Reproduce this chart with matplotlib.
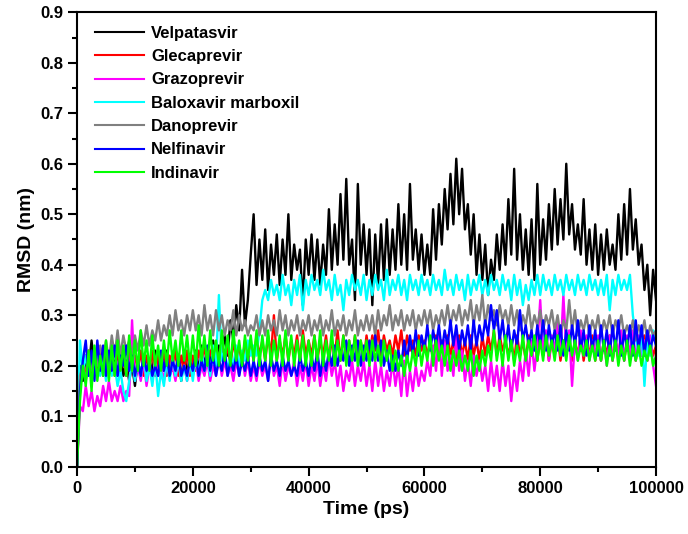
import numpy as np
import matplotlib
matplotlib.use('Agg')
import matplotlib.pyplot as plt
from matplotlib.ticker import MultipleLocator, FormatStrFormatter

plt.rcParams['font.family'] = ['Liberation Sans', 'DejaVu Sans']
plt.rcParams['font.weight'] = 'bold'

time_ps = np.arange(0, 100001, 500)

velpatasvir = [0.0,
    0.20, 0.17, 0.22, 0.19, 0.25, 0.20, 0.24, 0.19, 0.23, 0.18,
    0.22, 0.19, 0.21, 0.18, 0.22, 0.18, 0.21, 0.17, 0.20, 0.16,
    0.21, 0.18, 0.22, 0.18, 0.21, 0.19, 0.23, 0.18, 0.22, 0.19,
    0.23, 0.18, 0.21, 0.18, 0.22, 0.17, 0.23, 0.18, 0.22, 0.19,
    0.23, 0.19, 0.24, 0.20, 0.23, 0.21, 0.25, 0.21, 0.24, 0.22,
    0.26, 0.22, 0.29, 0.25, 0.32, 0.27, 0.39, 0.28, 0.33, 0.42,
    0.50, 0.36, 0.45, 0.37, 0.47, 0.35, 0.44, 0.38, 0.46, 0.36,
    0.45, 0.38, 0.50, 0.37, 0.44, 0.39, 0.43, 0.32, 0.45, 0.38,
    0.46, 0.37, 0.45, 0.36, 0.44, 0.38, 0.51, 0.39, 0.48, 0.40,
    0.54, 0.41, 0.57, 0.40, 0.45, 0.33, 0.56, 0.40, 0.48, 0.38,
    0.47, 0.32, 0.46, 0.36, 0.48, 0.37, 0.49, 0.38, 0.47, 0.39,
    0.52, 0.40, 0.50, 0.39, 0.56, 0.41, 0.47, 0.39, 0.46, 0.38,
    0.44, 0.38, 0.51, 0.41, 0.52, 0.44, 0.55, 0.47, 0.58, 0.48,
    0.61, 0.50, 0.59, 0.47, 0.52, 0.42, 0.50, 0.38, 0.46, 0.37,
    0.44, 0.34, 0.41, 0.37, 0.46, 0.39, 0.48, 0.40, 0.53, 0.42,
    0.59, 0.41, 0.50, 0.39, 0.47, 0.38, 0.49, 0.37, 0.56, 0.40,
    0.49, 0.41, 0.52, 0.43, 0.55, 0.44, 0.53, 0.45, 0.60, 0.46,
    0.52, 0.43, 0.48, 0.42, 0.53, 0.40, 0.47, 0.39, 0.48, 0.38,
    0.46, 0.39, 0.47, 0.40, 0.44, 0.39, 0.50, 0.41, 0.52, 0.42,
    0.55, 0.43, 0.49, 0.40, 0.44, 0.35, 0.40, 0.30, 0.39, 0.33]

glecaprevir = [0.0,
    0.15, 0.21, 0.17, 0.23, 0.18, 0.22, 0.19, 0.23, 0.18, 0.22,
    0.19, 0.22, 0.18, 0.23, 0.19, 0.22, 0.18, 0.23, 0.19, 0.22,
    0.19, 0.23, 0.18, 0.22, 0.19, 0.23, 0.18, 0.22, 0.19, 0.23,
    0.18, 0.22, 0.19, 0.23, 0.18, 0.22, 0.19, 0.23, 0.18, 0.22,
    0.19, 0.23, 0.20, 0.24, 0.20, 0.23, 0.21, 0.24, 0.20, 0.25,
    0.21, 0.24, 0.20, 0.25, 0.21, 0.24, 0.20, 0.25, 0.21, 0.24,
    0.21, 0.26, 0.22, 0.25, 0.21, 0.26, 0.22, 0.30, 0.21, 0.25,
    0.22, 0.26, 0.21, 0.25, 0.22, 0.26, 0.21, 0.27, 0.22, 0.25,
    0.22, 0.26, 0.21, 0.25, 0.22, 0.26, 0.21, 0.25, 0.22, 0.27,
    0.21, 0.26, 0.22, 0.25, 0.21, 0.26, 0.22, 0.25, 0.21, 0.26,
    0.22, 0.26, 0.23, 0.27, 0.22, 0.26, 0.23, 0.25, 0.22, 0.26,
    0.23, 0.27, 0.22, 0.26, 0.23, 0.25, 0.22, 0.26, 0.23, 0.25,
    0.22, 0.25, 0.21, 0.26, 0.22, 0.25, 0.21, 0.26, 0.22, 0.25,
    0.21, 0.26, 0.22, 0.25, 0.21, 0.26, 0.22, 0.25, 0.21, 0.26,
    0.22, 0.26, 0.23, 0.27, 0.22, 0.26, 0.23, 0.25, 0.22, 0.25,
    0.21, 0.26, 0.22, 0.25, 0.21, 0.26, 0.22, 0.25, 0.21, 0.26,
    0.22, 0.26, 0.21, 0.25, 0.22, 0.26, 0.21, 0.25, 0.22, 0.26,
    0.21, 0.25, 0.22, 0.26, 0.21, 0.25, 0.22, 0.26, 0.21, 0.25,
    0.21, 0.25, 0.22, 0.26, 0.21, 0.25, 0.22, 0.26, 0.21, 0.25,
    0.22, 0.26, 0.21, 0.25, 0.22, 0.26, 0.21, 0.25, 0.22, 0.24]

grazoprevir = [0.0,
    0.12, 0.11, 0.16, 0.12, 0.15, 0.11, 0.14, 0.12, 0.16, 0.13,
    0.17, 0.13, 0.15, 0.13, 0.16, 0.13, 0.15, 0.14, 0.29, 0.17,
    0.20, 0.17, 0.21, 0.16, 0.20, 0.17, 0.21, 0.18, 0.20, 0.17,
    0.21, 0.18, 0.20, 0.17, 0.21, 0.18, 0.20, 0.17, 0.21, 0.18,
    0.21, 0.17, 0.20, 0.18, 0.21, 0.17, 0.20, 0.18, 0.22, 0.18,
    0.21, 0.18, 0.20, 0.17, 0.21, 0.18, 0.22, 0.18, 0.21, 0.17,
    0.20, 0.17, 0.21, 0.18, 0.20, 0.17, 0.22, 0.18, 0.20, 0.16,
    0.21, 0.17, 0.20, 0.18, 0.21, 0.16, 0.20, 0.17, 0.21, 0.16,
    0.20, 0.17, 0.21, 0.16, 0.20, 0.17, 0.22, 0.18, 0.21, 0.16,
    0.20, 0.15, 0.19, 0.17, 0.21, 0.16, 0.20, 0.17, 0.21, 0.16,
    0.20, 0.15, 0.21, 0.16, 0.20, 0.15, 0.19, 0.16, 0.21, 0.16,
    0.20, 0.14, 0.21, 0.14, 0.19, 0.15, 0.20, 0.16, 0.19, 0.17,
    0.21, 0.18, 0.24, 0.19, 0.27, 0.18, 0.25, 0.19, 0.22, 0.18,
    0.26, 0.19, 0.23, 0.17, 0.21, 0.16, 0.22, 0.18, 0.21, 0.17,
    0.20, 0.15, 0.21, 0.16, 0.20, 0.15, 0.21, 0.16, 0.20, 0.13,
    0.19, 0.15, 0.21, 0.17, 0.23, 0.18, 0.25, 0.19, 0.24, 0.33,
    0.22, 0.27, 0.21, 0.26, 0.23, 0.29, 0.22, 0.34, 0.23, 0.27,
    0.16, 0.25, 0.21, 0.27, 0.22, 0.26, 0.21, 0.25, 0.22, 0.26,
    0.21, 0.25, 0.20, 0.26, 0.21, 0.25, 0.22, 0.27, 0.21, 0.26,
    0.22, 0.27, 0.21, 0.26, 0.22, 0.25, 0.21, 0.26, 0.20, 0.16]

baloxavir = [0.0,
    0.25, 0.19, 0.22, 0.18, 0.21, 0.19, 0.23, 0.18, 0.22, 0.17,
    0.21, 0.18, 0.20, 0.16, 0.19, 0.15, 0.13, 0.17, 0.21, 0.17,
    0.21, 0.18, 0.22, 0.17, 0.20, 0.16, 0.21, 0.14, 0.19, 0.16,
    0.21, 0.17, 0.22, 0.18, 0.21, 0.17, 0.20, 0.17, 0.21, 0.17,
    0.22, 0.18, 0.23, 0.19, 0.22, 0.18, 0.24, 0.20, 0.34, 0.21,
    0.23, 0.19, 0.22, 0.20, 0.24, 0.20, 0.23, 0.21, 0.25, 0.22,
    0.24, 0.22, 0.27, 0.33, 0.35, 0.33, 0.37, 0.34, 0.36, 0.33,
    0.38, 0.34, 0.36, 0.32, 0.37, 0.34, 0.38, 0.31, 0.37, 0.34,
    0.38, 0.35, 0.37, 0.34, 0.39, 0.35, 0.37, 0.33, 0.38, 0.34,
    0.36, 0.31, 0.37, 0.34, 0.38, 0.35, 0.37, 0.34, 0.38, 0.33,
    0.37, 0.34, 0.38, 0.35, 0.37, 0.33, 0.39, 0.34, 0.37, 0.35,
    0.38, 0.34, 0.37, 0.33, 0.38, 0.35, 0.37, 0.34, 0.38, 0.35,
    0.37, 0.34, 0.38, 0.35, 0.37, 0.34, 0.39, 0.35, 0.37, 0.34,
    0.38, 0.35, 0.37, 0.33, 0.38, 0.34, 0.37, 0.35, 0.38, 0.34,
    0.37, 0.34, 0.38, 0.35, 0.37, 0.34, 0.38, 0.35, 0.37, 0.33,
    0.38, 0.34, 0.37, 0.32, 0.36, 0.33, 0.37, 0.34, 0.38, 0.34,
    0.38, 0.35, 0.37, 0.34, 0.38, 0.35, 0.37, 0.34, 0.38, 0.35,
    0.37, 0.34, 0.38, 0.35, 0.37, 0.34, 0.38, 0.35, 0.37, 0.34,
    0.37, 0.34, 0.38, 0.31, 0.37, 0.34, 0.38, 0.35, 0.37, 0.35,
    0.38, 0.30, 0.26, 0.22, 0.27, 0.16, 0.25, 0.22, 0.27, 0.24]

danoprevir = [0.0,
    0.18, 0.20, 0.17, 0.22, 0.19, 0.23, 0.20, 0.24, 0.21, 0.25,
    0.21, 0.26, 0.22, 0.27, 0.22, 0.26, 0.23, 0.25, 0.22, 0.26,
    0.23, 0.27, 0.24, 0.28, 0.24, 0.27, 0.25, 0.29, 0.25, 0.28,
    0.26, 0.30, 0.26, 0.31, 0.27, 0.29, 0.26, 0.30, 0.27, 0.31,
    0.27, 0.30, 0.26, 0.32, 0.27, 0.30, 0.26, 0.31, 0.27, 0.30,
    0.26, 0.29, 0.27, 0.31, 0.26, 0.30, 0.27, 0.29, 0.26, 0.28,
    0.27, 0.30, 0.26, 0.29, 0.26, 0.30, 0.27, 0.29, 0.26, 0.31,
    0.27, 0.30, 0.26, 0.29, 0.27, 0.30, 0.26, 0.29, 0.27, 0.30,
    0.26, 0.29, 0.27, 0.30, 0.26, 0.29, 0.27, 0.31, 0.26, 0.29,
    0.27, 0.30, 0.26, 0.29, 0.27, 0.31, 0.26, 0.29, 0.27, 0.30,
    0.27, 0.30, 0.26, 0.31, 0.27, 0.30, 0.28, 0.32, 0.27, 0.30,
    0.28, 0.31, 0.27, 0.30, 0.28, 0.31, 0.27, 0.30, 0.28, 0.31,
    0.28, 0.31, 0.27, 0.30, 0.28, 0.31, 0.28, 0.32, 0.28, 0.31,
    0.29, 0.32, 0.28, 0.31, 0.29, 0.33, 0.28, 0.32, 0.29, 0.34,
    0.28, 0.32, 0.29, 0.31, 0.28, 0.32, 0.29, 0.31, 0.28, 0.32,
    0.28, 0.31, 0.27, 0.30, 0.28, 0.32, 0.27, 0.30, 0.28, 0.31,
    0.27, 0.30, 0.28, 0.31, 0.27, 0.30, 0.26, 0.29, 0.27, 0.33,
    0.27, 0.31, 0.26, 0.29, 0.27, 0.30, 0.26, 0.29, 0.27, 0.30,
    0.26, 0.29, 0.27, 0.30, 0.26, 0.29, 0.27, 0.30, 0.26, 0.28,
    0.26, 0.29, 0.25, 0.28, 0.26, 0.29, 0.25, 0.28, 0.26, 0.27]

nelfinavir = [0.0,
    0.15, 0.21, 0.25, 0.18, 0.23, 0.17, 0.25, 0.19, 0.24, 0.18,
    0.23, 0.19, 0.24, 0.18, 0.22, 0.20, 0.24, 0.19, 0.22, 0.18,
    0.21, 0.18, 0.22, 0.19, 0.21, 0.18, 0.20, 0.18, 0.23, 0.19,
    0.22, 0.18, 0.21, 0.19, 0.22, 0.18, 0.20, 0.18, 0.21, 0.19,
    0.22, 0.18, 0.21, 0.19, 0.24, 0.19, 0.22, 0.18, 0.21, 0.19,
    0.23, 0.18, 0.21, 0.19, 0.22, 0.18, 0.21, 0.19, 0.22, 0.18,
    0.21, 0.18, 0.22, 0.19, 0.21, 0.17, 0.22, 0.19, 0.21, 0.18,
    0.22, 0.19, 0.21, 0.18, 0.20, 0.18, 0.22, 0.19, 0.21, 0.18,
    0.22, 0.19, 0.23, 0.18, 0.22, 0.19, 0.23, 0.20, 0.24, 0.20,
    0.23, 0.21, 0.25, 0.20, 0.24, 0.21, 0.25, 0.20, 0.24, 0.21,
    0.25, 0.21, 0.26, 0.21, 0.25, 0.20, 0.23, 0.19, 0.22, 0.19,
    0.23, 0.20, 0.25, 0.21, 0.26, 0.22, 0.27, 0.22, 0.26, 0.23,
    0.28, 0.23, 0.27, 0.24, 0.28, 0.23, 0.27, 0.24, 0.29, 0.24,
    0.28, 0.23, 0.27, 0.24, 0.28, 0.23, 0.29, 0.24, 0.28, 0.25,
    0.29, 0.26, 0.32, 0.27, 0.31, 0.25, 0.29, 0.24, 0.28, 0.23,
    0.27, 0.24, 0.31, 0.25, 0.28, 0.24, 0.27, 0.23, 0.28, 0.24,
    0.29, 0.23, 0.28, 0.24, 0.27, 0.23, 0.28, 0.22, 0.27, 0.23,
    0.28, 0.24, 0.29, 0.23, 0.27, 0.22, 0.28, 0.23, 0.27, 0.22,
    0.28, 0.23, 0.27, 0.22, 0.28, 0.23, 0.29, 0.22, 0.27, 0.23,
    0.28, 0.22, 0.29, 0.23, 0.28, 0.22, 0.27, 0.23, 0.26, 0.24]

indinavir = [0.0,
    0.13, 0.20, 0.16, 0.23, 0.15, 0.24, 0.17, 0.22, 0.18, 0.25,
    0.17, 0.24, 0.18, 0.25, 0.19, 0.24, 0.18, 0.26, 0.19, 0.25,
    0.19, 0.27, 0.20, 0.25, 0.19, 0.26, 0.20, 0.24, 0.19, 0.25,
    0.20, 0.27, 0.21, 0.25, 0.20, 0.27, 0.21, 0.26, 0.20, 0.26,
    0.20, 0.28, 0.21, 0.26, 0.20, 0.27, 0.21, 0.25, 0.20, 0.27,
    0.21, 0.26, 0.20, 0.27, 0.21, 0.25, 0.20, 0.26, 0.21, 0.26,
    0.21, 0.27, 0.20, 0.26, 0.21, 0.27, 0.20, 0.25, 0.21, 0.26,
    0.20, 0.27, 0.21, 0.26, 0.20, 0.25, 0.21, 0.26, 0.20, 0.25,
    0.20, 0.26, 0.21, 0.27, 0.20, 0.25, 0.21, 0.27, 0.20, 0.25,
    0.21, 0.26, 0.20, 0.25, 0.21, 0.26, 0.20, 0.25, 0.21, 0.25,
    0.20, 0.25, 0.21, 0.24, 0.20, 0.25, 0.21, 0.24, 0.19, 0.23,
    0.19, 0.22, 0.18, 0.22, 0.19, 0.23, 0.20, 0.25, 0.20, 0.24,
    0.21, 0.26, 0.20, 0.25, 0.21, 0.24, 0.20, 0.24, 0.19, 0.23,
    0.20, 0.23, 0.19, 0.22, 0.19, 0.23, 0.18, 0.22, 0.19, 0.23,
    0.20, 0.24, 0.21, 0.27, 0.21, 0.25, 0.20, 0.26, 0.21, 0.25,
    0.20, 0.24, 0.21, 0.26, 0.21, 0.25, 0.22, 0.26, 0.21, 0.25,
    0.21, 0.26, 0.22, 0.25, 0.21, 0.26, 0.22, 0.25, 0.21, 0.26,
    0.22, 0.25, 0.21, 0.24, 0.22, 0.25, 0.21, 0.24, 0.21, 0.25,
    0.21, 0.25, 0.20, 0.24, 0.21, 0.25, 0.20, 0.24, 0.21, 0.25,
    0.20, 0.24, 0.21, 0.24, 0.20, 0.23, 0.21, 0.24, 0.20, 0.22]

series = [
    ('Velpatasvir', velpatasvir, '#000000'),
    ('Glecaprevir', glecaprevir, '#ff0000'),
    ('Grazoprevir', grazoprevir, '#ff00ff'),
    ('Baloxavir marboxil', baloxavir, '#00ffff'),
    ('Danoprevir', danoprevir, '#808080'),
    ('Nelfinavir', nelfinavir, '#0000ff'),
    ('Indinavir', indinavir, '#00ff00'),
]

fig = plt.figure(figsize=(6.88, 5.34), dpi=100)
ax = fig.add_axes([0.112, 0.126, 0.8415, 0.851])

for name, vals, col in series:
    ax.plot(time_ps, vals, color=col, lw=1.7, label=name)

ax.set_xlim(0, 100000)
ax.set_ylim(0, 0.9)
ax.xaxis.set_major_locator(MultipleLocator(20000))
ax.xaxis.set_minor_locator(MultipleLocator(10000))
ax.yaxis.set_major_locator(MultipleLocator(0.1))
ax.yaxis.set_minor_locator(MultipleLocator(0.05))
ax.yaxis.set_major_formatter(FormatStrFormatter('%.1f'))

for s in ax.spines.values():
    s.set_linewidth(1.5)
ax.tick_params(which='both', direction='out', width=1.5, labelsize=12)
ax.tick_params(which='major', length=6.5)
ax.tick_params(which='minor', length=3.6)
for lab in ax.get_xticklabels() + ax.get_yticklabels():
    lab.set_fontweight('bold')

ax.set_xlabel('Time (ps)', fontsize=14, fontweight='bold', labelpad=4)
ax.set_ylabel('RMSD (nm)', fontsize=14, fontweight='bold', labelpad=4)

leg = ax.legend(loc='upper left', bbox_to_anchor=(0.02, 0.985), borderaxespad=0,
                frameon=False, handlelength=2.95, handletextpad=0.4,
                labelspacing=0.5, prop={'weight': 'bold', 'size': 12})
for h in leg.get_lines():
    h.set_linewidth(1.5)

fig.savefig('out.png', dpi=100)
